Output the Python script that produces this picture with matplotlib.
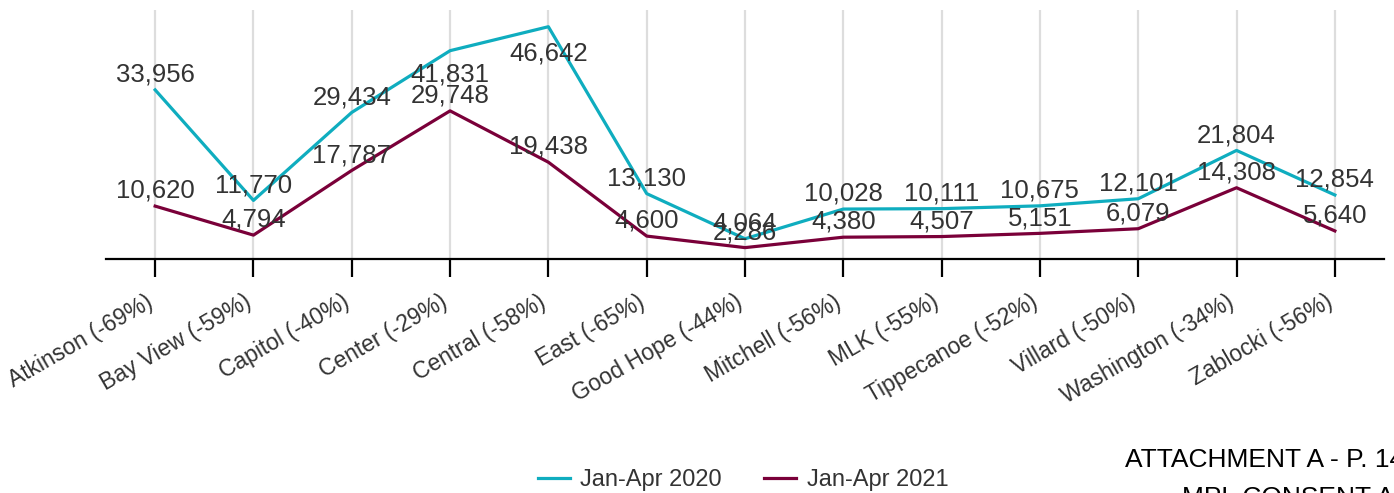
import matplotlib.pyplot as plt
import matplotlib.transforms as mtransforms
import numpy as np

plt.rcParams['font.family'] = ['Liberation Sans', 'DejaVu Sans']

# Data
schools = ['Atkinson', 'Bay View', 'Capitol', 'Center', 'Central', 'East', 'Good Hope',
           'Mitchell', 'MLK', 'Tippecanoe', 'Villard', 'Washington', 'Zablocki']
pct_change = [-69, -59, -40, -29, -58, -65, -44, -56, -55, -52, -50, -34, -56]
jan_apr_2020 = [33956, 11770, 29434, 41831, 46642, 13130, 4064, 10028, 10111, 10675, 12101, 21804, 12854]
jan_apr_2021 = [10620, 4794, 17787, 29748, 19438, 4600, 2286, 4380, 4507, 5151, 6079, 14308, 5640]

tick_labels = [f'{s} ({p}%)' for s, p in zip(schools, pct_change)]

teal, maroon, txt = '#0fadbf', '#7a0039', '#333333'

fig = plt.figure(figsize=(13.94, 4.93), dpi=100)
ax = fig.add_axes([106 / 1394, 1 - 259 / 493, 1278 / 1394, 249 / 493])

x = np.arange(len(schools))
ax.plot(x, jan_apr_2020, color=teal, lw=2.3, zorder=3, label='Jan-Apr 2020')
ax.plot(x, jan_apr_2021, color=maroon, lw=2.3, zorder=3, label='Jan-Apr 2021')

## Value labels (a couple sit under the point to avoid crowding)
below = {3: -22, 4: -24}
for i, v in enumerate(jan_apr_2020):
    dy = below.get(i, 6)
    ax.annotate(f'{v:,}', (i, v), xytext=(0, dy), textcoords='offset points',
                ha='center', va='baseline', fontsize=18.5, color=txt, zorder=4)
for i, v in enumerate(jan_apr_2021):
    ax.annotate(f'{v:,}', (i, v), xytext=(0, 6), textcoords='offset points',
                ha='center', va='baseline', fontsize=18.5, color=txt, zorder=4)

## Axes styling
ax.set_xlim(-0.5, len(schools) - 0.5)
ax.set_ylim(0, 50000)
ax.set_yticks([])
ax.set_xticks(x)
ax.set_xticklabels(tick_labels, rotation=30, ha='right', va='baseline', rotation_mode='anchor',
                   fontsize=16.5, color=txt)
ax.tick_params(axis='x', length=13, width=1.6, pad=0, color='black')
shift = mtransforms.ScaledTranslation(-1 / 100, -29 / 100, fig.dpi_scale_trans)
for lab in ax.get_xticklabels():
    lab.set_transform(lab.get_transform() + shift)
ax.grid(axis='x', color='#dddddd', lw=1.6, zorder=0)
for side in ['top', 'right', 'left']:
    ax.spines[side].set_visible(False)
ax.spines['bottom'].set_linewidth(1.6)

## Legend and footer text
fig.legend(loc='center', bbox_to_anchor=(743 / 1394, 1 - 480 / 493), ncol=2, frameon=False,
           fontsize=17, handlelength=1.35, handletextpad=0.45, columnspacing=1.8,
           labelcolor=txt)
fig.text(1125 / 1394, 1 - 467 / 493, 'ATTACHMENT A - P. 14', fontsize=19, va='baseline', color='black')
fig.text(1182 / 1394, 1 - 486 / 493, 'MPL CONSENT AGENDA', fontsize=19, va='top', color='black')

fig.savefig('out.png', dpi=100)
